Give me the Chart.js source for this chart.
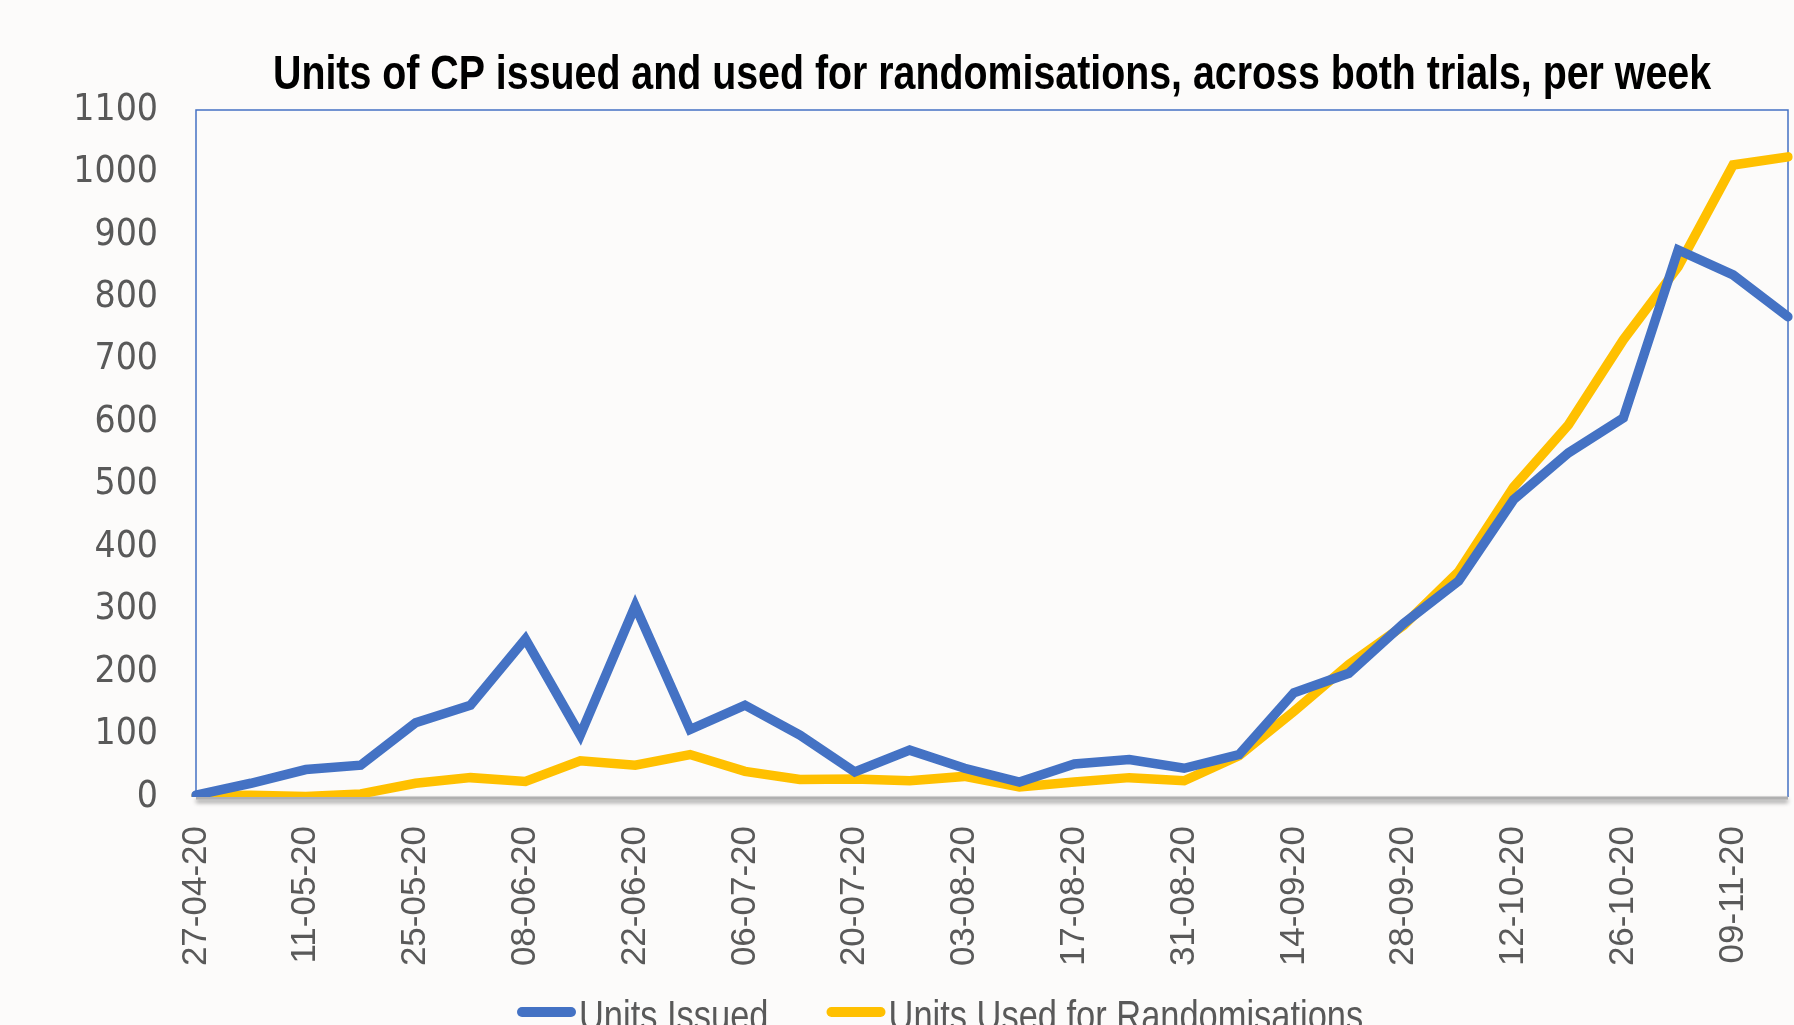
<!DOCTYPE html>
<html>
<head>
<meta charset="utf-8">
<title>Units of CP issued and used for randomisations</title>
<script src="https://cdn.jsdelivr.net/npm/chart.js@4.4.0/dist/chart.umd.min.js"></script>
<style>
    html, body { margin: 0; padding: 0; background: #fcfbfa; overflow: hidden; }
    #wrap { width: 1794px; height: 1025px; position: relative; }
</style>
</head>
<body>
<div id="wrap"><canvas id="cpChart"></canvas></div>
<script>
// weekly data
const weekLabels = [
    "27-04-20", "04-05-20", "11-05-20", "18-05-20", "25-05-20", "01-06-20",
    "08-06-20", "15-06-20", "22-06-20", "29-06-20", "06-07-20", "13-07-20",
    "20-07-20", "27-07-20", "03-08-20", "10-08-20", "17-08-20", "24-08-20",
    "31-08-20", "07-09-20", "14-09-20", "21-09-20", "28-09-20", "05-10-20",
    "12-10-20", "19-10-20", "26-10-20", "02-11-20", "09-11-20", "16-11-20"
];
const unitsIssued = [
    3, 22, 44, 51, 119, 147, 253, 99, 306, 108,
    147, 99, 40, 75, 46, 24, 53, 60, 46, 68,
    167, 198, 278, 346, 476, 551, 607, 876, 836, 769
];
const unitsUsed = [
    2, 3, 1, 5, 22, 31, 25, 58, 51, 68,
    41, 28, 29, 26, 33, 16, 24, 31, 26, 66,
    137, 212, 275, 361, 496, 596, 732, 849, 1012, 1025
];
const titleText = "Units of CP issued and used for randomisations, across both trials, per week";

const condFont = '"DejaVu Sans Condensed", "DejaVu Sans", sans-serif';
const plainFont = '"Liberation Sans", Arial, sans-serif';

// draw text squeezed sideways to mimic the narrow face of the original
function narrowText(ctx, text, x, y, font, squeeze, align) {
    ctx.save();
    ctx.font = font;
    const w = ctx.measureText(text).width * squeeze;
    let left = x;
    if (align === "center") left = x - w / 2;
    ctx.translate(left, y);
    ctx.scale(squeeze, 1);
    ctx.textAlign = "left";
    ctx.fillText(text, 0, 0);
    ctx.restore();
    return w;
}

// frame round the plot area + grey shadowed base line
const plotFrame = {
    id: "plotFrame",
    beforeDatasetsDraw(chart) {
        const { ctx, chartArea: a } = chart;
        ctx.save();
        ctx.strokeStyle = "#4472c4";
        ctx.lineWidth = 1.5;
        ctx.beginPath();
        ctx.moveTo(a.left, a.bottom);
        ctx.lineTo(a.left, a.top);
        ctx.lineTo(a.right, a.top);
        ctx.lineTo(a.right, a.bottom);
        ctx.stroke();
        ctx.shadowColor = "rgba(0,0,0,0.45)";
        ctx.shadowBlur = 4;
        ctx.shadowOffsetY = 3;
        ctx.strokeStyle = "#b0b0b0";
        ctx.lineWidth = 3;
        ctx.beginPath();
        ctx.moveTo(a.left, a.bottom + 1);
        ctx.lineTo(a.right, a.bottom + 1);
        ctx.stroke();
        ctx.restore();
    }
};

// title centred over the plot area, legend along the bottom edge
const titleAndLegend = {
    id: "titleAndLegend",
    afterDraw(chart) {
        const { ctx, chartArea: a } = chart;
        ctx.save();
        ctx.fillStyle = "#000";
        ctx.textBaseline = "alphabetic";
        ctx.font = "bold 48px " + plainFont;
        const squeeze = 1438 / ctx.measureText(titleText).width;
        narrowText(ctx, titleText, (a.left + a.right) / 2, 89, ctx.font, squeeze, "center");

        let x = 517;
        const markY = 1012;
        chart.data.datasets.forEach(function (ds) {
            ctx.strokeStyle = ds.borderColor;
            ctx.lineWidth = 10;
            ctx.lineCap = "round";
            ctx.beginPath();
            ctx.moveTo(x + 5, markY);
            ctx.lineTo(x + 54, markY);
            ctx.stroke();
            ctx.fillStyle = "#595959";
            const w = narrowText(ctx, ds.label, x + 62, 1030, "42px " + plainFont, 0.82, "left");
            x += 62 + w + 58;
        });
        ctx.restore();
    }
};

new Chart(document.getElementById("cpChart"), {
    type: "line",
    data: {
        labels: weekLabels,
        datasets: [
            { label: "Units Issued", data: unitsIssued, borderColor: "#4472c4", backgroundColor: "#4472c4",
              borderWidth: 9.5, pointRadius: 0, tension: 0, borderCapStyle: "round", borderJoinStyle: "miter" },
            { label: "Units Used for Randomisations", data: unitsUsed, borderColor: "#ffc000", backgroundColor: "#ffc000",
              borderWidth: 9.5, pointRadius: 0, tension: 0, borderCapStyle: "round", borderJoinStyle: "miter" }
        ]
    },
    plugins: [plotFrame, titleAndLegend],
    options: {
        responsive: true,
        maintainAspectRatio: false,
        animation: false,
        layout: { padding: { top: 110, right: 6, left: 0, bottom: 0 } },
        scales: {
            x: {
                offset: false,
                grid: { display: false },
                border: { display: false },
                ticks: {
                    autoSkip: false,
                    minRotation: 90,
                    maxRotation: 90,
                    padding: 21,
                    color: "#595959",
                    font: { family: plainFont, size: 35 },
                    callback: function (val, i) { return i % 2 === 0 ? weekLabels[i] : ""; }
                },
                afterFit: function (scale) {
                    scale.height = 228;
                    scale.paddingLeft = 0;
                    scale.paddingRight = 0;
                }
            },
            y: {
                min: 0,
                max: 1100,
                grid: { display: false },
                border: { display: false },
                ticks: {
                    stepSize: 100,
                    padding: 30,
                    color: "#595959",
                    font: { family: condFont, size: 37 },
                    callback: function (v) { return String(v); }
                },
                afterFit: function (scale) { scale.width = 196; }
            }
        },
        plugins: {
            title: { display: false },
            tooltip: { enabled: false },
            legend: { display: false }
        }
    }
});
</script>
</body>
</html>
